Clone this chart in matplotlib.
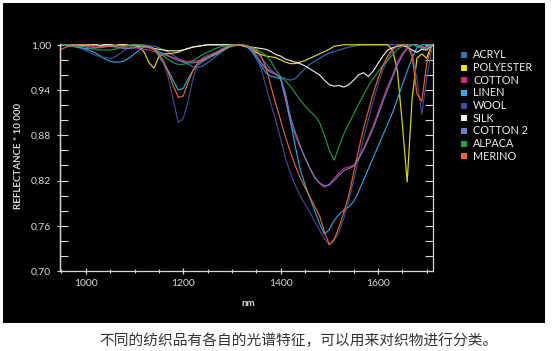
import numpy as np
import matplotlib
matplotlib.use("Agg")
import matplotlib.pyplot as plt
from matplotlib.patches import Rectangle
from matplotlib.ticker import MultipleLocator, FuncFormatter

# wavelength grid (nm), one reading every 10 nm
WL = np.arange(950, 1720, 10)

ACRYL = [1.000, 1.000, 1.000, 0.999, 0.998,
         0.998, 0.997, 0.996, 0.996, 0.997, 0.998, 0.998, 0.997, 0.996, 0.996,
         0.997, 0.998, 0.999, 0.999, 0.998, 0.996, 0.993, 0.990, 0.986, 0.982,
         0.978, 0.974, 0.971, 0.970, 0.972, 0.976, 0.981, 0.986, 0.991, 0.995,
         0.998, 0.999, 1.000, 0.999, 0.996, 0.990, 0.983, 0.975, 0.967, 0.961,
         0.957, 0.955, 0.953, 0.955, 0.962, 0.968, 0.974, 0.978, 0.982, 0.986,
         0.989, 0.991, 0.993, 0.995, 0.997, 0.998, 0.999, 1.000, 1.000, 1.000,
         1.000, 1.000, 1.000, 1.000, 1.000, 1.000, 1.000, 1.000, 0.998, 0.995,
         0.996, 1.000]
POLYESTER = [0.999, 1.000, 1.000, 1.000, 1.000,
             1.000, 1.000, 1.000, 0.999, 1.000, 1.000, 0.999, 1.000, 1.000, 0.999,
             0.999, 0.997, 0.990, 0.976, 0.969, 0.984, 0.988, 0.988, 0.989, 0.990,
             0.993, 0.995, 0.997, 0.998, 0.999, 1.000, 1.000, 1.000, 1.000, 1.000,
             1.000, 1.000, 0.999, 0.997, 0.994, 0.990, 0.987, 0.985, 0.984, 0.983,
             0.980, 0.977, 0.975, 0.975, 0.977, 0.979, 0.982, 0.985, 0.988, 0.991,
             0.994, 0.998, 0.999, 1.000, 1.000, 1.000, 1.000, 1.000, 1.000, 1.000,
             1.000, 1.000, 1.000, 0.993, 0.965, 0.895, 0.818, 0.928, 0.982, 0.988,
             0.982, 1.000]
COTTON = [1.000, 1.000, 0.999, 0.999, 0.998,
          0.998, 0.998, 0.997, 0.997, 0.998, 0.999, 0.999, 0.998, 0.997, 0.996,
          0.996, 0.995, 0.994, 0.993, 0.991, 0.989, 0.987, 0.985, 0.983, 0.981,
          0.979, 0.978, 0.978, 0.979, 0.980, 0.982, 0.985, 0.989, 0.993, 0.997,
          0.999, 1.000, 1.000, 0.998, 0.993, 0.985, 0.976, 0.969, 0.965, 0.962,
          0.955, 0.928, 0.898, 0.880, 0.865, 0.851, 0.837, 0.825, 0.816, 0.811,
          0.815, 0.823, 0.830, 0.836, 0.838, 0.840, 0.850, 0.862, 0.877, 0.892,
          0.910, 0.928, 0.945, 0.960, 0.977, 0.988, 0.996, 1.000, 1.000, 0.998,
          0.997, 1.000]
LINEN = [1.000, 1.000, 0.999, 0.998, 0.996,
         0.994, 0.992, 0.989, 0.985, 0.981, 0.978, 0.977, 0.977, 0.979, 0.983,
         0.988, 0.993, 0.997, 0.998, 0.994, 0.985, 0.975, 0.965, 0.952, 0.940,
         0.942, 0.955, 0.966, 0.973, 0.978, 0.982, 0.985, 0.988, 0.992, 0.996,
         0.998, 1.000, 1.000, 0.998, 0.992, 0.982, 0.972, 0.963, 0.958, 0.957,
         0.955, 0.930, 0.900, 0.866, 0.835, 0.815, 0.797, 0.780, 0.763, 0.749,
         0.755, 0.767, 0.775, 0.781, 0.785, 0.792, 0.805, 0.820, 0.835, 0.850,
         0.865, 0.880, 0.895, 0.910, 0.928, 0.947, 0.965, 0.982, 0.996, 1.000,
         1.000, 1.000]
WOOL = [1.000, 1.000, 0.999, 0.997, 0.995,
        0.992, 0.989, 0.986, 0.984, 0.983, 0.982, 0.984, 0.988, 0.993, 0.997,
        0.999, 1.000, 1.000, 0.999, 0.995, 0.987, 0.975, 0.955, 0.925, 0.897,
        0.902, 0.925, 0.955, 0.975, 0.983, 0.986, 0.988, 0.991, 0.995, 0.998,
        1.000, 1.000, 1.000, 0.999, 0.995, 0.985, 0.968, 0.945, 0.922, 0.900,
        0.875, 0.850, 0.830, 0.814, 0.800, 0.789, 0.778, 0.766, 0.754, 0.743,
        0.735, 0.740, 0.752, 0.770, 0.793, 0.820, 0.848, 0.875, 0.900, 0.925,
        0.947, 0.966, 0.981, 0.992, 0.998, 1.000, 1.000, 0.990, 0.955, 0.908,
        0.955, 0.993]
SILK = [1.000, 0.999, 1.000, 1.000, 0.999,
        1.000, 0.999, 1.000, 0.999, 1.000, 1.000, 0.999, 1.000, 1.000, 0.999,
        1.000, 0.999, 0.998, 0.997, 0.995, 0.994, 0.993, 0.992, 0.992, 0.992,
        0.993, 0.995, 0.997, 0.998, 0.999, 1.000, 1.000, 1.000, 1.000, 1.000,
        1.000, 1.000, 0.999, 0.998, 0.997, 0.996, 0.995, 0.994, 0.991, 0.987,
        0.985, 0.981, 0.979, 0.977, 0.975, 0.972, 0.968, 0.964, 0.960, 0.953,
        0.947, 0.945, 0.946, 0.944, 0.947, 0.953, 0.960, 0.963, 0.958, 0.965,
        0.975, 0.985, 0.993, 0.996, 0.998, 0.999, 0.997, 0.993, 0.990, 0.994,
        0.993, 1.000]
COTTON2 = [1.000, 0.999, 0.998, 0.997, 0.996,
           0.995, 0.995, 0.996, 0.997, 0.998, 0.998, 0.997, 0.996, 0.995, 0.995,
           0.996, 0.997, 0.997, 0.996, 0.994, 0.991, 0.988, 0.985, 0.982, 0.979,
           0.977, 0.976, 0.976, 0.977, 0.979, 0.982, 0.986, 0.990, 0.994, 0.997,
           0.999, 1.000, 1.000, 0.998, 0.994, 0.986, 0.976, 0.968, 0.963, 0.961,
           0.957, 0.935, 0.905, 0.884, 0.866, 0.850, 0.836, 0.824, 0.817, 0.813,
           0.814, 0.820, 0.827, 0.833, 0.836, 0.839, 0.848, 0.860, 0.874, 0.889,
           0.906, 0.924, 0.941, 0.957, 0.973, 0.986, 0.995, 1.000, 1.000, 0.997,
           0.996, 1.000]
ALPACA = [1.000, 1.000, 1.000, 0.999, 0.998,
          0.997, 0.995, 0.994, 0.993, 0.993, 0.993, 0.994, 0.996, 0.998, 0.999,
          1.000, 1.000, 0.999, 0.997, 0.994, 0.990, 0.985, 0.980, 0.976, 0.974,
          0.974, 0.976, 0.979, 0.983, 0.987, 0.990, 0.993, 0.996, 0.998, 0.999,
          1.000, 1.000, 1.000, 0.999, 0.997, 0.994, 0.990, 0.986, 0.978, 0.967,
          0.958, 0.952, 0.945, 0.936, 0.927, 0.919, 0.912, 0.906, 0.897, 0.880,
          0.860, 0.847, 0.865, 0.882, 0.895, 0.908, 0.921, 0.933, 0.945, 0.955,
          0.964, 0.972, 0.979, 0.987, 0.994, 0.998, 1.000, 1.000, 0.998, 0.996,
          0.995, 1.000]
MERINO = [0.994, 0.997, 0.999, 1.000, 1.000,
          1.000, 0.999, 0.999, 0.998, 0.998, 0.998, 0.999, 0.999, 0.999, 0.999,
          0.999, 0.999, 0.998, 0.997, 0.994, 0.988, 0.978, 0.962, 0.945, 0.930,
          0.932, 0.950, 0.966, 0.976, 0.981, 0.984, 0.987, 0.990, 0.993, 0.996,
          0.999, 1.000, 1.000, 0.998, 0.996, 0.993, 0.985, 0.970, 0.945, 0.922,
          0.900, 0.878, 0.858, 0.840, 0.824, 0.811, 0.798, 0.786, 0.773, 0.752,
          0.735, 0.742, 0.758, 0.778, 0.800, 0.830, 0.860, 0.888, 0.912, 0.935,
          0.955, 0.972, 0.985, 0.994, 0.999, 1.000, 1.000, 0.985, 0.935, 0.925,
          0.975, 0.998]

NAMES = ["ACRYL", "POLYESTER", "COTTON", "LINEN", "WOOL",
         "SILK", "COTTON 2", "ALPACA", "MERINO"]
SERIES = [ACRYL, POLYESTER, COTTON, LINEN, WOOL, SILK, COTTON2, ALPACA, MERINO]
COLORS = ["#2f74b5", "#f0e31a", "#d42a8a", "#27aee6", "#414f9c",
          "#f2f2f2", "#6f7fc1", "#1fa24a", "#ef6a33"]

XTICKS = [1000, 1200, 1400, 1600]
YTICKS = [0.70, 0.76, 0.82, 0.88, 0.94, 1.00]
CAPTION = "不同的纺织品有各自的光谱特征，可以用来对织物进行分类。"

AXC = "#d8d8d8"
FONT = "Lato"
W, H = 554, 351

fig = plt.figure(figsize=(W / 100, H / 100), dpi=100)
fig.patch.set_facecolor("white")
# black panel behind the chart (drawn under the axes)
fig.patches.append(Rectangle((3 / W, 1 - 323 / H), 542 / W, 320 / H,
                             transform=fig.transFigure, facecolor="black",
                             edgecolor="none", zorder=-5))

ax = fig.add_axes([60 / W, 1 - 271 / H, 373 / W, 227 / H])
ax.set_facecolor("black")
for name, ys, col in zip(NAMES, SERIES, COLORS):
    ax.plot(WL, ys, color=col, lw=0.85, alpha=0.95, solid_joinstyle="round")

ax.set_xlim(947, 1713)
ax.set_ylim(0.70, 1.001)
ax.spines["top"].set_visible(False)
for s in ("left", "right", "bottom"):
    ax.spines[s].set_color(AXC)
    ax.spines[s].set_linewidth(0.9)

ax.set_xticks(XTICKS)
ax.xaxis.set_minor_locator(MultipleLocator(50))
ax.set_yticks(YTICKS)
ax.yaxis.set_minor_locator(MultipleLocator(0.02))
ax.yaxis.set_major_formatter(FuncFormatter(lambda v, p: f"{v:.2f}".replace(".", ",")))
ax.tick_params(axis="x", which="major", direction="inout", length=5, width=0.9,
               color=AXC, labelcolor=AXC, labelsize=7.5, pad=3)
ax.tick_params(axis="x", which="minor", direction="inout", length=3, width=0.8,
               color=AXC)
ax.tick_params(axis="y", which="both", direction="in", length=6, width=0.8,
               color=AXC, labelcolor=AXC, labelsize=7.5, pad=6.5,
               right=True)
for lab in ax.get_xticklabels() + ax.get_yticklabels():
    lab.set_fontfamily(FONT)

# short outward stubs on the labelled y ticks
sec = ax.secondary_yaxis("left")
sec.set_yticks(YTICKS)
sec.tick_params(direction="out", length=2.2, width=0.8, color=AXC,
                labelleft=False)
sec.spines["left"].set_color(AXC)
sec.spines["left"].set_linewidth(0.9)

fig.text(19 / W, 1 - 156 / H, "REFLECTANCE * 10 000", rotation=90,
         ha="center", va="center", color=AXC, fontsize=7, fontweight="bold",
         family=FONT)
fig.text(248 / W, 1 - 303 / H, "nm", ha="center", va="center", color=AXC,
         fontsize=7, fontweight="bold", family=FONT)

# legend, drawn by hand
for i, (name, col) in enumerate(zip(NAMES, COLORS)):
    yc = 55 + 12.65 * i
    fig.patches.append(Rectangle((461 / W, 1 - (yc + 3) / H), 6 / W, 6 / H,
                                 transform=fig.transFigure, facecolor=col,
                                 edgecolor="none", zorder=3))
    fig.text(473 / W, 1 - yc / H, name, ha="left", va="center",
             color="#ececec", fontsize=7.8, family=FONT)

fig.text(298 / W, 1 - 341 / H, CAPTION, ha="center", va="center",
         color="#333333", fontsize=10.6,
         family=["Noto Sans CJK SC", "DejaVu Sans"])

fig.savefig("out.png", dpi=100, facecolor="white")
